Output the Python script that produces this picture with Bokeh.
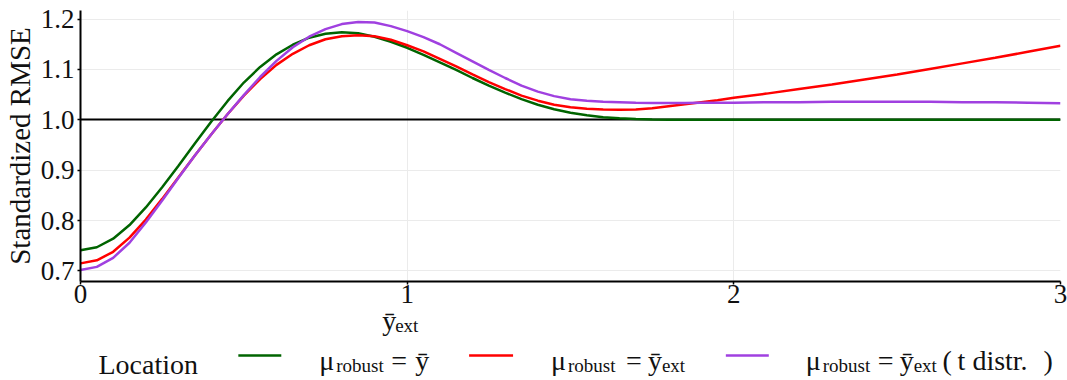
from bokeh.plotting import figure
from bokeh.layouts import column
from bokeh.models import Range1d, FixedTicker, PrintfTickFormatter
from bokeh.core.properties import value
from bokeh.embed import file_html
from bokeh.resources import INLINE

# ---- data -------------------------------------------------------------
y_ext = [0.00, 0.05, 0.10, 0.15, 0.20, 0.25, 0.30, 0.35, 0.40, 0.45,
         0.50, 0.55, 0.60, 0.65, 0.70, 0.75, 0.80, 0.85, 0.90, 0.95,
         1.00, 1.05, 1.10, 1.15, 1.20, 1.25, 1.30, 1.35, 1.40, 1.45,
         1.50, 1.55, 1.60, 1.65, 1.70, 1.75, 1.80, 1.85, 1.90, 1.95,
         2.00, 2.10, 2.20, 2.30, 2.40, 2.50, 2.60, 2.70, 2.80, 2.90, 3.00]

rmse_ybar = [0.741, 0.747, 0.764, 0.791, 0.826, 0.866, 0.909, 0.953, 0.996, 1.037,
             1.074, 1.105, 1.130, 1.149, 1.163, 1.171, 1.174, 1.172, 1.165, 1.155,
             1.143, 1.129, 1.114, 1.099, 1.083, 1.068, 1.054, 1.041, 1.030, 1.021,
             1.014, 1.009, 1.005, 1.003, 1.0015, 1.0008, 1.0003, 1.000, 1.000, 1.000,
             1.000, 1.000, 1.000, 1.000, 1.000, 1.000, 1.000, 1.000, 1.000, 1.000, 1.000]

rmse_ybar_ext = [0.715, 0.721, 0.738, 0.766, 0.802, 0.843, 0.886, 0.929, 0.971, 1.011,
                 1.048, 1.081, 1.109, 1.131, 1.148, 1.160, 1.166, 1.168, 1.166, 1.159,
                 1.148, 1.136, 1.121, 1.106, 1.090, 1.075, 1.061, 1.048, 1.038, 1.030,
                 1.025, 1.022, 1.0205, 1.020, 1.0205, 1.023, 1.027, 1.031, 1.035, 1.039,
                 1.044, 1.052, 1.061, 1.070, 1.080, 1.090, 1.101, 1.112, 1.123, 1.135, 1.147]

rmse_ybar_ext_t = [0.702, 0.708, 0.726, 0.756, 0.796, 0.840, 0.885, 0.929, 0.971, 1.011,
                   1.049, 1.085, 1.117, 1.144, 1.165, 1.180, 1.190, 1.194, 1.193, 1.186,
                   1.176, 1.164, 1.150, 1.133, 1.116, 1.099, 1.083, 1.068, 1.056, 1.047,
                   1.041, 1.038, 1.036, 1.035, 1.034, 1.0335, 1.0335, 1.0335, 1.034, 1.034,
                   1.034, 1.035, 1.035, 1.036, 1.036, 1.036, 1.036, 1.035, 1.035, 1.034, 1.033]

x_ticks = [0, 1, 2, 3]
y_ticks = [0.7, 0.8, 0.9, 1.0, 1.1, 1.2]
reference_level = 1.0

series_colors = ["#006400", "#ff0000", "#a040e0"]

# ---- page geometry ----------------------------------------------------
W, H = 1067, 380
H_MAIN = 335                                  # chart panel height (room for tick labels)
STRIP_TOP = 305                               # overlay strip frame starts here
PAD = 10                                      # the strip's frame sits this far below its top
FL, FR, FT, FB = 79, 1060, 10, 281            # plot frame edges (pixels)
X0, X1 = 0.0, 3.0
Y0, Y1 = 0.679, 1.217
SERIF = "Liberation Serif"

p = figure(width=W, height=H_MAIN, output_backend="svg", toolbar_location=None,
           title=None,
           x_range=Range1d(X0, X1), y_range=Range1d(Y0, Y1),
           min_border_left=FL, min_border_right=W - FR,
           min_border_top=FT, min_border_bottom=H_MAIN - FB)
p.outline_line_color = None
p.background_fill_color = "white"
p.border_fill_color = "white"

# grid
p.xgrid.ticker = FixedTicker(ticks=x_ticks)
p.ygrid.ticker = FixedTicker(ticks=y_ticks)
p.grid.grid_line_color = "#ebebeb"
p.grid.grid_line_width = 1

# axes
p.xaxis.ticker = FixedTicker(ticks=x_ticks)
p.yaxis.ticker = FixedTicker(ticks=y_ticks)
p.yaxis.formatter = PrintfTickFormatter(format="%.1f")
for ax in (p.xaxis, p.yaxis):
    ax.axis_line_color = "black"
    ax.axis_line_width = 2
    ax.major_tick_line_color = "black"
    ax.major_tick_line_width = 1.5
    ax.major_tick_out = 3
    ax.major_tick_in = 0
    ax.minor_tick_line_color = None
    ax.major_label_text_font = SERIF
    ax.major_label_text_font_size = "27px"
    ax.major_label_text_color = "#111111"
p.yaxis.major_label_standoff = 3
p.xaxis.major_label_standoff = 0
p.yaxis.axis_label = "Standardized RMSE"
p.yaxis.axis_label_text_font = SERIF
p.yaxis.axis_label_text_font_size = "29px"
p.yaxis.axis_label_text_font_style = "normal"
p.yaxis.axis_label_text_color = "#111111"
p.yaxis.axis_label_standoff = 2

# reference line, then the three curves
p.hspan(y=[reference_level], line_color="black", line_width=2)
for vals, col in zip([rmse_ybar, rmse_ybar_ext, rmse_ybar_ext_t], series_colors):
    p.line(y_ext, vals, line_color=col, line_width=2.5)

# ---- transparent strip over the bottom: x-axis title and legend -------
# the strip's frame spans page pixels FL..FR and STRIP_TOP..H+PAD, so the
# ranges let coordinates be given as page pixels (y downward)
q = figure(width=W, height=H + PAD - STRIP_TOP, output_backend="svg", toolbar_location=None,
           title=None,
           x_range=Range1d(FL, FR), y_range=Range1d(H + PAD, STRIP_TOP),
           x_axis_type=None, y_axis_type=None,
           min_border_left=FL, min_border_right=W - FR, min_border_top=0, min_border_bottom=0)
q.margin = (STRIP_TOP - PAD - H_MAIN, 0, 0, 0)
q.outline_line_color = None
q.xgrid.visible = False
q.ygrid.visible = False
q.background_fill_color = None
q.border_fill_color = None

BIG, SMALL = "28px", "19px"
tx, ty, tt, ts = [], [], [], []


def put(px, py, txt, size=BIG):
    tx.append(px); ty.append(py); tt.append(txt); ts.append(size)


# x-axis title: y-bar with subscript "ext"
put(381, 330, "ȳ")
put(394, 335, "ext", SMALL)

BASE, SUB = 370, 375
put(97, 374, "Location")
# item 1
put(318, BASE, "μ"); put(335, SUB, "robust", SMALL); put(390, BASE, "="); put(414, BASE, "ȳ")
# item 2
put(550, BASE, "μ"); put(567, SUB, "robust", SMALL); put(625, BASE, "="); put(647, BASE, "ȳ")
put(661, SUB, "ext", SMALL)
# item 3
put(805, BASE, "μ"); put(822, SUB, "robust", SMALL); put(877, BASE, "="); put(899, BASE, "ȳ")
put(913, SUB, "ext", SMALL)
put(942, BASE, "("); put(957, BASE, "t distr."); put(1043, BASE, ")")

q.text(x=tx, y=ty, text=tt, text_font_size=ts, text_font=value(SERIF),
       text_color="#111111", text_baseline="alphabetic", text_align="left")

sw_x0 = [237, 468, 725]
sw_x1 = [280, 512, 768]
q.segment(x0=sw_x0, y0=[365] * 3, x1=sw_x1, y1=[365] * 3,
          line_color=series_colors, line_width=2.5)

layout = column(p, q, spacing=0)
open("out.html", "w").write(file_html(layout, INLINE))
